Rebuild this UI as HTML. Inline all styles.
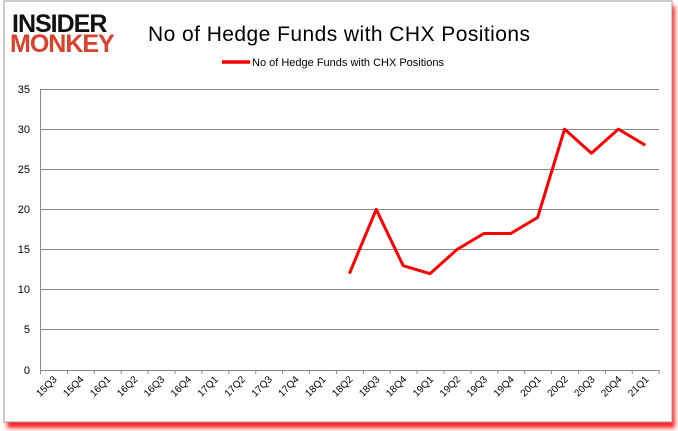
<!DOCTYPE html>
<html><head><style>
body{margin:0;background:#fff;}
svg{display:block;font-family:"Liberation Sans",sans-serif;}
</style></head><body>
<svg width="678" height="431" viewBox="0 0 678 431">
<defs><filter id="s" x="-5%" y="-5%" width="110%" height="110%"><feGaussianBlur stdDeviation="2"/></filter></defs>
<rect x="7" y="6" width="668" height="422" fill="#f22" filter="url(#s)"/>
<rect x="4" y="1" width="668" height="421" fill="#fff" stroke="#999" stroke-width="1"/>
<text x="12" y="32" font-size="25" font-weight="bold" fill="#111" letter-spacing="-1">INSIDER</text>
<text x="10" y="52" font-size="25" font-weight="bold" fill="#d9412b" letter-spacing="-1">MONKEY</text>
<text x="148" y="41" font-size="21" fill="#000" textLength="382">No of Hedge Funds with CHX Positions</text>
<line x1="222" y1="62" x2="250" y2="62" stroke="#f00" stroke-width="3.5"/>
<text x="252" y="66" font-size="11" fill="#000">No of Hedge Funds with CHX Positions</text>
<g stroke="#888" stroke-width="1">
<line x1="40" y1="89.5" x2="659" y2="89.5"/>
<line x1="40" y1="129.5" x2="659" y2="129.5"/>
<line x1="40" y1="169.5" x2="659" y2="169.5"/>
<line x1="40" y1="209.5" x2="659" y2="209.5"/>
<line x1="40" y1="249.5" x2="659" y2="249.5"/>
<line x1="40" y1="289.5" x2="659" y2="289.5"/>
<line x1="40" y1="329.5" x2="659" y2="329.5"/>
<line x1="40" y1="370.5" x2="659" y2="370.5"/>
<line x1="40.5" y1="89" x2="40.5" y2="374"/>
<path d="M67.4 370v4M94.3 370v4M121.2 370v4M148.1 370v4M175 370v4M201.9 370v4M228.8 370v4M255.7 370v4M282.6 370v4M309.5 370v4M336.4 370v4M363.3 370v4M390.2 370v4M417.1 370v4M444 370v4M470.9 370v4M497.8 370v4M524.7 370v4M551.6 370v4M578.5 370v4M605.4 370v4M632.3 370v4M659.2 370v4"/>
</g>
<g font-size="11" text-anchor="end" fill="#000">
<text x="30" y="93">35</text><text x="30" y="133">30</text><text x="30" y="173">25</text><text x="30" y="213">20</text><text x="30" y="253">15</text><text x="30" y="293">10</text><text x="30" y="333">5</text><text x="30" y="374">0</text>
</g>
<g font-size="10" text-anchor="end" fill="#000">
<text transform="translate(57.45,380) rotate(-45)">15Q3</text>
<text transform="translate(84.35,380) rotate(-45)">15Q4</text>
<text transform="translate(111.25,380) rotate(-45)">16Q1</text>
<text transform="translate(138.15,380) rotate(-45)">16Q2</text>
<text transform="translate(165.05,380) rotate(-45)">16Q3</text>
<text transform="translate(191.95,380) rotate(-45)">16Q4</text>
<text transform="translate(218.85,380) rotate(-45)">17Q1</text>
<text transform="translate(245.75,380) rotate(-45)">17Q2</text>
<text transform="translate(272.65,380) rotate(-45)">17Q3</text>
<text transform="translate(299.55,380) rotate(-45)">17Q4</text>
<text transform="translate(326.45,380) rotate(-45)">18Q1</text>
<text transform="translate(353.35,380) rotate(-45)">18Q2</text>
<text transform="translate(380.25,380) rotate(-45)">18Q3</text>
<text transform="translate(407.15,380) rotate(-45)">18Q4</text>
<text transform="translate(434.05,380) rotate(-45)">19Q1</text>
<text transform="translate(460.95,380) rotate(-45)">19Q2</text>
<text transform="translate(487.85,380) rotate(-45)">19Q3</text>
<text transform="translate(514.75,380) rotate(-45)">19Q4</text>
<text transform="translate(541.65,380) rotate(-45)">20Q1</text>
<text transform="translate(568.55,380) rotate(-45)">20Q2</text>
<text transform="translate(595.45,380) rotate(-45)">20Q3</text>
<text transform="translate(622.35,380) rotate(-45)">20Q4</text>
<text transform="translate(649.25,380) rotate(-45)">21Q1</text>
</g>
<polyline fill="none" stroke="#f00" stroke-width="3" stroke-linejoin="round" points="349.35,273.66 376.25,209.43 403.15,265.63 430.05,273.66 456.95,249.57 483.85,233.51 510.75,233.51 537.65,217.46 564.55,129.14 591.45,153.23 618.35,129.14 645.25,145.2"/>
</svg>
</body></html>
